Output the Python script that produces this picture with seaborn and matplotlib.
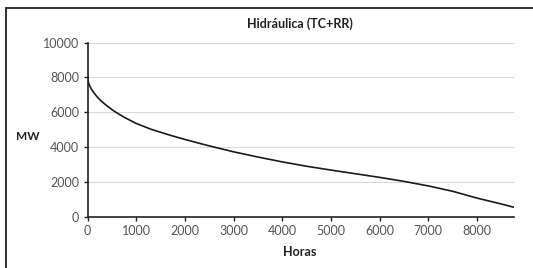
import matplotlib
matplotlib.use("Agg")
import matplotlib.pyplot as plt
import seaborn as sns
import pandas as pd
from matplotlib.lines import Line2D

hours = [0, 5, 15, 40, 80, 130, 200, 280, 400, 550, 750, 1000, 1300, 1700, 2000, 2500,
         3000, 3500, 4000, 4500, 5000, 5500, 6000, 6500, 7000, 7500, 8000, 8500, 8760]
mw = [8150, 7950, 7760, 7550, 7330, 7130, 6880, 6650, 6370, 6060, 5720, 5360, 5030, 4680,
      4440, 4070, 3730, 3430, 3150, 2900, 2680, 2470, 2260, 2030, 1770, 1460, 1070, 730, 540]

title = "Hidráulica (TC+RR)"
xlabel = "Horas"
ylabel = "MW"
xticks = [0, 1000, 2000, 3000, 4000, 5000, 6000, 7000, 8000]
yticks = [0, 2000, 4000, 6000, 8000, 10000]

df = pd.DataFrame({"Horas": hours, "MW": mw})

sns.set_theme(style="white")
plt.rcParams['font.family'] = ['Lato', 'DejaVu Sans']

fig = plt.figure(figsize=(5.33, 2.68), dpi=100)
ax = fig.add_axes([87.5/533, 1 - 216.7/268, (514 - 87.5)/533, (216.7 - 42.7)/268])

sns.lineplot(data=df, x="Horas", y="MW", ax=ax, color="#1a1a1a", linewidth=1.2)

ax.set_xlim(0, 8760)
ax.set_ylim(0, 10000)
ax.set_xticks(xticks)
ax.set_yticks(yticks)
ax.yaxis.grid(True, color="#d9d9d9", linewidth=0.8)
ax.set_axisbelow(True)
for s in ["top", "right"]:
    ax.spines[s].set_visible(False)
for s in ["left", "bottom"]:
    ax.spines[s].set_color("#222222")
    ax.spines[s].set_linewidth(1.2)
ax.tick_params(axis="both", which="major", length=3, width=1, color="#222222",
               labelsize=9, labelcolor="#555555", direction="out", pad=3)
ax.tick_params(axis="y", left=True)
ax.tick_params(axis="x", bottom=True)

ax.set_xlabel("")
ax.set_ylabel("")
fig.text(300 / 533, 1 - 24 / 268, title, ha="center", va="center",
         fontsize=9, fontweight="bold", color="#222222")
fig.text(300 / 533, 1 - 252 / 268, xlabel, ha="center", va="center",
         fontsize=9, fontweight="bold", color="#222222")
fig.text(28 / 533, 1 - 137 / 268, ylabel, ha="center", va="center",
         fontsize=8.5, fontweight="bold", color="#222222")

# frame lines (left and top)
fig.add_artist(Line2D([5.5 / 533, 5.5 / 533], [0, 1 - 8 / 268], transform=fig.transFigure,
                      color="#222222", linewidth=1.3))
fig.add_artist(Line2D([5.5 / 533, 1], [1 - 8 / 268, 1 - 8 / 268], transform=fig.transFigure,
                      color="#222222", linewidth=1.3))

fig.savefig("out.png", dpi=100)
